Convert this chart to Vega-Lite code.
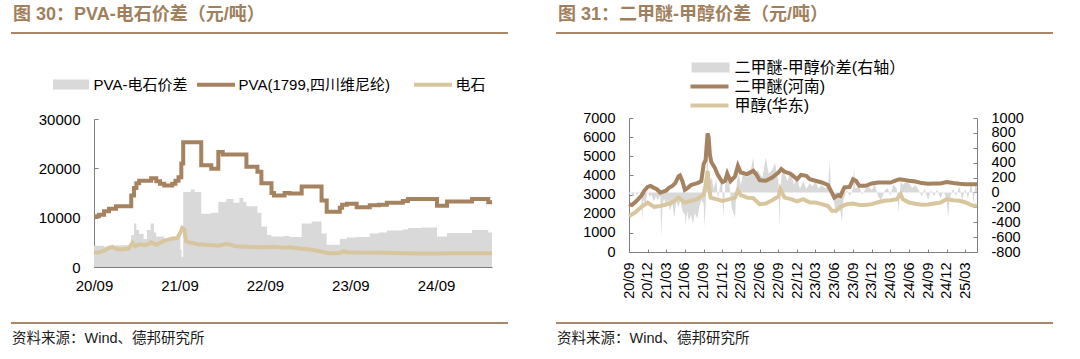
{
  "$schema": "https://vega.github.io/schema/vega-lite/v6.json",
  "background": "white",
  "padding": {"left": 11, "top": 6, "right": 5, "bottom": 5},
  "config": {
    "font": "Liberation Sans, Noto Sans CJK SC",
    "view": {"stroke": null},
    "axis": {"domainColor": "#7f7f7f", "tickColor": "#7f7f7f", "labelColor": "#000000", "labelFont": "Liberation Sans, Noto Sans CJK SC", "labelFontSize": 15, "grid": false, "labelOverlap": false},
    "legend": {"labelFont": "Liberation Sans, Noto Sans CJK SC", "labelFontSize": 15, "labelColor": "#000000", "labelLimit": 400}
  },
  "datasets": {
    "spreadL": [
      {"d":"2020-09-01","v":4300},{"d":"2020-10-14","v":4100},{"d":"2020-11-04","v":4300},{"d":"2020-12-04","v":4400},
      {"d":"2021-01-29","v":4500},{"d":"2021-02-07","v":6500},{"d":"2021-02-19","v":8800},{"d":"2021-03-01","v":7500},
      {"d":"2021-03-13","v":6700},{"d":"2021-04-01","v":5700},{"d":"2021-04-15","v":7500},{"d":"2021-05-01","v":8800},
      {"d":"2021-05-15","v":7000},{"d":"2021-05-25","v":6200},{"d":"2021-06-28","v":5800},{"d":"2021-08-01","v":5900},
      {"d":"2021-08-23","v":6200},{"d":"2021-09-05","v":3500},{"d":"2021-09-10","v":2000},{"d":"2021-09-17","v":15200},
      {"d":"2021-10-20","v":15700},{"d":"2021-11-05","v":15200},{"d":"2021-12-03","v":10800},{"d":"2022-01-15","v":11000},
      {"d":"2022-02-14","v":13200},{"d":"2022-03-20","v":13800},{"d":"2022-04-20","v":13000},{"d":"2022-05-15","v":14000},
      {"d":"2022-06-01","v":13200},{"d":"2022-06-14","v":12300},{"d":"2022-07-31","v":11000},{"d":"2022-08-17","v":8200},
      {"d":"2022-09-10","v":6500},{"d":"2022-09-29","v":6200},{"d":"2022-11-24","v":6300},{"d":"2022-12-15","v":6100},
      {"d":"2023-02-05","v":8800},{"d":"2023-03-20","v":9200},{"d":"2023-05-01","v":6800},{"d":"2023-05-23","v":4500},
      {"d":"2023-07-18","v":5700},{"d":"2023-08-17","v":6000},{"d":"2023-09-28","v":6100},{"d":"2023-11-23","v":6800},
      {"d":"2024-01-01","v":7000},{"d":"2024-02-04","v":7400},{"d":"2024-04-12","v":7600},{"d":"2024-05-04","v":7900},
      {"d":"2024-07-01","v":8000},{"d":"2024-09-05","v":6200},{"d":"2024-10-18","v":6900},{"d":"2025-02-02","v":7500},
      {"d":"2025-04-12","v":7000},{"d":"2025-04-28","v":7000}
    ],
    "pva": [
      {"d":"2020-09-01","v":10300},{"d":"2020-09-22","v":10600},{"d":"2020-10-14","v":11300},{"d":"2020-11-04","v":11800},
      {"d":"2020-12-04","v":12300},{"d":"2021-01-29","v":12300},{"d":"2021-02-07","v":14500},{"d":"2021-02-19","v":16000},
      {"d":"2021-03-01","v":17000},{"d":"2021-03-13","v":17500},{"d":"2021-05-03","v":18000},{"d":"2021-05-25","v":17400},
      {"d":"2021-06-10","v":16900},{"d":"2021-06-28","v":16500},{"d":"2021-08-01","v":16900},{"d":"2021-08-15","v":17500},
      {"d":"2021-08-28","v":18200},{"d":"2021-09-09","v":21000},{"d":"2021-09-17","v":25300},{"d":"2021-12-03","v":20600},
      {"d":"2022-01-15","v":19900},{"d":"2022-02-14","v":23300},{"d":"2022-03-05","v":22800},{"d":"2022-06-14","v":20300},
      {"d":"2022-07-31","v":19300},{"d":"2022-08-17","v":17000},{"d":"2022-09-29","v":15000},{"d":"2022-10-10","v":14500},
      {"d":"2022-11-24","v":15000},{"d":"2022-12-15","v":14900},{"d":"2023-02-05","v":16300},{"d":"2023-05-01","v":13500},
      {"d":"2023-05-23","v":11200},{"d":"2023-07-18","v":12000},{"d":"2023-07-28","v":12600},{"d":"2023-08-17","v":12800},
      {"d":"2023-09-28","v":12100},{"d":"2023-11-23","v":12500},{"d":"2024-01-01","v":12600},{"d":"2024-02-04","v":13000},
      {"d":"2024-04-12","v":13400},{"d":"2024-05-04","v":13800},{"d":"2024-09-05","v":12400},{"d":"2024-10-18","v":13300},
      {"d":"2025-02-02","v":13800},{"d":"2025-04-12","v":13100},{"d":"2025-04-28","v":13100}
    ],
    "cs": [
      {"d":"2020-09-01","v":3000},{"d":"2020-09-22","v":2950},{"d":"2020-10-14","v":3300},{"d":"2020-11-04","v":3900},
      {"d":"2020-11-20","v":4100},{"d":"2020-12-09","v":3600},{"d":"2021-01-10","v":3600},{"d":"2021-01-29","v":3800},
      {"d":"2021-02-12","v":4900},{"d":"2021-02-25","v":4200},{"d":"2021-03-13","v":4600},{"d":"2021-04-10","v":4400},
      {"d":"2021-05-03","v":5000},{"d":"2021-05-25","v":4500},{"d":"2021-06-28","v":5300},{"d":"2021-08-01","v":5800},
      {"d":"2021-08-23","v":5900},{"d":"2021-09-05","v":7000},{"d":"2021-09-13","v":7900},{"d":"2021-09-22","v":7600},
      {"d":"2021-09-30","v":5200},{"d":"2021-10-13","v":5000},{"d":"2021-11-20","v":4600},{"d":"2021-12-20","v":4500},
      {"d":"2022-02-14","v":4300},{"d":"2022-03-20","v":4700},{"d":"2022-05-01","v":4200},{"d":"2022-06-14","v":4100},
      {"d":"2022-07-31","v":4000},{"d":"2022-09-01","v":4000},{"d":"2022-10-10","v":4100},{"d":"2022-11-24","v":3900},
      {"d":"2022-12-15","v":4000},{"d":"2023-02-05","v":3700},{"d":"2023-03-20","v":3500},{"d":"2023-05-01","v":3100},
      {"d":"2023-06-01","v":2800},{"d":"2023-07-18","v":2850},{"d":"2023-08-01","v":3200},{"d":"2023-08-20","v":3000},
      {"d":"2023-10-01","v":2950},{"d":"2023-12-01","v":2950},{"d":"2024-02-01","v":2900},{"d":"2024-04-12","v":2800},
      {"d":"2024-07-01","v":2750},{"d":"2024-09-05","v":2750},{"d":"2024-11-01","v":2800},{"d":"2025-01-01","v":2800},
      {"d":"2025-04-28","v":2800}
    ],
    "spreadR": [
      {"d":"2020-09-01","v":-30},{"d":"2020-09-10","v":20},{"d":"2020-09-20","v":-60},{"d":"2020-10-01","v":10},
      {"d":"2020-10-10","v":-40},{"d":"2020-10-20","v":20},{"d":"2020-11-01","v":-80},{"d":"2020-11-05","v":-380},
      {"d":"2020-11-10","v":-100},{"d":"2020-11-20","v":-150},{"d":"2020-12-01","v":20},{"d":"2020-12-10","v":-60},
      {"d":"2020-12-20","v":-30},{"d":"2021-01-01","v":-120},{"d":"2021-01-10","v":-50},{"d":"2021-01-20","v":-100},
      {"d":"2021-02-01","v":-40},{"d":"2021-02-06","v":-600},{"d":"2021-02-12","v":-150},{"d":"2021-02-20","v":-80},
      {"d":"2021-03-01","v":-200},{"d":"2021-03-10","v":-100},{"d":"2021-03-20","v":-250},{"d":"2021-04-01","v":-150},
      {"d":"2021-04-10","v":-340},{"d":"2021-04-20","v":-120},{"d":"2021-05-01","v":-200},{"d":"2021-05-10","v":-100},
      {"d":"2021-05-20","v":-250},{"d":"2021-06-01","v":-300},{"d":"2021-06-05","v":-450},{"d":"2021-06-12","v":-250},
      {"d":"2021-06-20","v":-380},{"d":"2021-07-01","v":-300},{"d":"2021-07-10","v":-420},{"d":"2021-07-20","v":-280},
      {"d":"2021-08-01","v":-350},{"d":"2021-08-10","v":-200},{"d":"2021-08-20","v":-100},{"d":"2021-09-01","v":-150},
      {"d":"2021-09-05","v":-470},{"d":"2021-09-12","v":-50},{"d":"2021-09-20","v":900},{"d":"2021-09-24","v":-100},
      {"d":"2021-10-01","v":150},{"d":"2021-10-10","v":200},{"d":"2021-10-20","v":50},{"d":"2021-11-01","v":180},
      {"d":"2021-11-10","v":-100},{"d":"2021-11-20","v":100},{"d":"2021-12-01","v":150},{"d":"2021-12-05","v":-340},
      {"d":"2021-12-15","v":100},{"d":"2022-01-01","v":200},{"d":"2022-01-15","v":-200},{"d":"2022-02-01","v":-340},
      {"d":"2022-02-10","v":150},{"d":"2022-02-20","v":250},{"d":"2022-03-01","v":100},{"d":"2022-03-15","v":300},
      {"d":"2022-04-01","v":200},{"d":"2022-04-15","v":250},{"d":"2022-05-01","v":470},{"d":"2022-05-10","v":200},
      {"d":"2022-05-20","v":300},{"d":"2022-06-01","v":250},{"d":"2022-06-15","v":200},{"d":"2022-07-01","v":470},
      {"d":"2022-07-15","v":250},{"d":"2022-08-01","v":300},{"d":"2022-08-15","v":400},{"d":"2022-09-01","v":150},
      {"d":"2022-09-05","v":-470},{"d":"2022-09-12","v":100},{"d":"2022-09-20","v":300},{"d":"2022-10-01","v":250},
      {"d":"2022-10-15","v":150},{"d":"2022-11-01","v":300},{"d":"2022-11-15","v":100},{"d":"2022-12-01","v":200},
      {"d":"2022-12-15","v":50},{"d":"2023-01-01","v":150},{"d":"2023-01-15","v":50},{"d":"2023-02-01","v":120},
      {"d":"2023-02-15","v":80},{"d":"2023-03-01","v":150},{"d":"2023-03-15","v":50},{"d":"2023-04-01","v":100},
      {"d":"2023-04-15","v":60},{"d":"2023-05-01","v":80},{"d":"2023-05-10","v":430},{"d":"2023-05-15","v":50},
      {"d":"2023-06-01","v":-150},{"d":"2023-06-10","v":-300},{"d":"2023-06-20","v":-200},{"d":"2023-07-01","v":-250},
      {"d":"2023-07-08","v":-400},{"d":"2023-07-15","v":-100},{"d":"2023-08-01","v":30},{"d":"2023-08-15","v":-50},
      {"d":"2023-09-01","v":50},{"d":"2023-09-05","v":340},{"d":"2023-09-12","v":50},{"d":"2023-10-01","v":80},
      {"d":"2023-10-15","v":-30},{"d":"2023-11-01","v":50},{"d":"2023-11-15","v":80},{"d":"2023-12-01","v":30},
      {"d":"2023-12-15","v":110},{"d":"2024-01-01","v":-50},{"d":"2024-01-15","v":-110},{"d":"2024-02-01","v":20},
      {"d":"2024-02-15","v":60},{"d":"2024-03-01","v":-40},{"d":"2024-03-15","v":110},{"d":"2024-04-01","v":50},
      {"d":"2024-04-10","v":-270},{"d":"2024-04-20","v":150},{"d":"2024-05-01","v":100},{"d":"2024-05-15","v":150},
      {"d":"2024-06-01","v":120},{"d":"2024-06-15","v":60},{"d":"2024-07-01","v":100},{"d":"2024-07-15","v":40},
      {"d":"2024-08-01","v":-50},{"d":"2024-08-15","v":50},{"d":"2024-09-01","v":-100},{"d":"2024-09-15","v":30},
      {"d":"2024-10-01","v":-50},{"d":"2024-10-15","v":40},{"d":"2024-11-01","v":-80},{"d":"2024-11-15","v":20},
      {"d":"2024-12-01","v":-100},{"d":"2024-12-08","v":-340},{"d":"2024-12-15","v":-80},{"d":"2025-01-01","v":50},
      {"d":"2025-01-15","v":-50},{"d":"2025-02-01","v":80},{"d":"2025-02-15","v":-100},{"d":"2025-03-01","v":50},
      {"d":"2025-03-15","v":-80},{"d":"2025-04-01","v":150},{"d":"2025-04-10","v":-150},{"d":"2025-04-20","v":100},
      {"d":"2025-04-28","v":60}
    ],
    "dme": [
      {"d":"2020-09-01","v":2500},{"d":"2020-09-15","v":2450},{"d":"2020-10-01","v":2600},{"d":"2020-10-15","v":2750},
      {"d":"2020-11-01","v":2950},{"d":"2020-11-15","v":3200},{"d":"2020-12-01","v":3400},{"d":"2020-12-15","v":3450},
      {"d":"2021-01-01","v":3350},{"d":"2021-01-15","v":3280},{"d":"2021-02-01","v":3100},{"d":"2021-02-15","v":3150},
      {"d":"2021-03-01","v":3200},{"d":"2021-03-15","v":3350},{"d":"2021-04-01","v":3450},{"d":"2021-04-15","v":3600},
      {"d":"2021-05-01","v":3950},{"d":"2021-05-08","v":4000},{"d":"2021-05-20","v":3700},{"d":"2021-06-01","v":3250},
      {"d":"2021-06-15","v":3350},{"d":"2021-07-01","v":3500},{"d":"2021-07-15","v":3550},{"d":"2021-08-01","v":3600},
      {"d":"2021-08-20","v":3700},{"d":"2021-09-01","v":4600},{"d":"2021-09-10","v":4800},{"d":"2021-09-20","v":6200},
      {"d":"2021-09-25","v":6000},{"d":"2021-10-01","v":5100},{"d":"2021-10-08","v":4700},{"d":"2021-10-25","v":4400},
      {"d":"2021-11-10","v":4000},{"d":"2021-12-01","v":3650},{"d":"2021-12-15","v":3720},{"d":"2021-12-25","v":4100},
      {"d":"2022-01-10","v":3700},{"d":"2022-02-01","v":3950},{"d":"2022-02-15","v":4500},{"d":"2022-03-01","v":4150},
      {"d":"2022-04-01","v":4070},{"d":"2022-05-01","v":4240},{"d":"2022-05-15","v":4070},{"d":"2022-06-01","v":3750},
      {"d":"2022-07-01","v":3720},{"d":"2022-08-01","v":3890},{"d":"2022-09-01","v":4150},{"d":"2022-09-15","v":4330},
      {"d":"2022-10-01","v":4200},{"d":"2022-11-01","v":4080},{"d":"2022-12-01","v":3800},{"d":"2022-12-20","v":4030},
      {"d":"2023-01-15","v":3980},{"d":"2023-02-01","v":3800},{"d":"2023-03-01","v":3720},{"d":"2023-04-01","v":3630},
      {"d":"2023-05-01","v":3500},{"d":"2023-05-20","v":3100},{"d":"2023-06-01","v":2840},{"d":"2023-06-20","v":2970},
      {"d":"2023-07-01","v":2930},{"d":"2023-07-20","v":3370},{"d":"2023-08-15","v":3400},{"d":"2023-09-01","v":3800},
      {"d":"2023-09-15","v":3720},{"d":"2023-10-01","v":3460},{"d":"2023-11-01","v":3460},{"d":"2023-12-01","v":3580},
      {"d":"2024-01-01","v":3630},{"d":"2024-02-01","v":3630},{"d":"2024-03-01","v":3630},{"d":"2024-04-01","v":3750},
      {"d":"2024-04-15","v":3800},{"d":"2024-05-01","v":3780},{"d":"2024-06-01","v":3720},{"d":"2024-07-01","v":3680},
      {"d":"2024-08-01","v":3600},{"d":"2024-09-01","v":3560},{"d":"2024-10-01","v":3580},{"d":"2024-11-01","v":3580},
      {"d":"2024-12-01","v":3650},{"d":"2025-01-01","v":3600},{"d":"2025-02-01","v":3560},{"d":"2025-03-01","v":3540},
      {"d":"2025-04-01","v":3540},{"d":"2025-04-28","v":3540}
    ],
    "meoh": [
      {"d":"2020-09-01","v":1880},{"d":"2020-10-01","v":2060},{"d":"2020-11-01","v":2360},{"d":"2020-12-01","v":2580},
      {"d":"2021-01-01","v":2360},{"d":"2021-02-01","v":2400},{"d":"2021-03-01","v":2480},{"d":"2021-04-01","v":2600},
      {"d":"2021-05-01","v":2840},{"d":"2021-06-01","v":2580},{"d":"2021-07-01","v":2670},{"d":"2021-08-01","v":2760},
      {"d":"2021-09-01","v":3000},{"d":"2021-09-10","v":3500},{"d":"2021-09-20","v":4240},{"d":"2021-09-28","v":3300},
      {"d":"2021-10-05","v":2840},{"d":"2021-11-01","v":2760},{"d":"2021-12-01","v":2670},{"d":"2022-01-01","v":2750},
      {"d":"2022-02-01","v":2840},{"d":"2022-02-15","v":3230},{"d":"2022-03-01","v":2970},{"d":"2022-04-01","v":2840},
      {"d":"2022-05-01","v":2810},{"d":"2022-06-01","v":2500},{"d":"2022-07-01","v":2530},{"d":"2022-08-01","v":2700},
      {"d":"2022-09-01","v":2900},{"d":"2022-09-10","v":3280},{"d":"2022-10-01","v":2840},{"d":"2022-11-01","v":2760},
      {"d":"2022-12-01","v":2640},{"d":"2023-01-01","v":2760},{"d":"2023-02-01","v":2580},{"d":"2023-03-01","v":2580},
      {"d":"2023-04-01","v":2500},{"d":"2023-05-01","v":2400},{"d":"2023-05-20","v":2150},{"d":"2023-06-10","v":2150},
      {"d":"2023-07-01","v":2360},{"d":"2023-08-01","v":2500},{"d":"2023-09-01","v":2530},{"d":"2023-10-01","v":2460},
      {"d":"2023-11-01","v":2460},{"d":"2023-12-01","v":2500},{"d":"2024-01-01","v":2600},{"d":"2024-02-01","v":2680},
      {"d":"2024-03-01","v":2700},{"d":"2024-04-01","v":2760},{"d":"2024-04-20","v":3020},{"d":"2024-05-01","v":2750},
      {"d":"2024-06-01","v":2580},{"d":"2024-07-01","v":2520},{"d":"2024-08-01","v":2470},{"d":"2024-09-01","v":2480},
      {"d":"2024-10-01","v":2530},{"d":"2024-11-01","v":2580},{"d":"2024-12-01","v":2760},{"d":"2025-01-01","v":2700},
      {"d":"2025-02-01","v":2680},{"d":"2025-03-01","v":2600},{"d":"2025-04-01","v":2450},{"d":"2025-04-28","v":2400}
    ]
  },
  "spacing": 48,
  "resolve": {"scale": {"x": "independent", "y": "independent", "color": "independent", "fill": "independent"}, "axis": {"x": "independent", "y": "independent"}, "legend": {"color": "independent", "fill": "independent"}},
  "hconcat": [
    {
      "spacing": 43,
      "resolve": {"scale": {"x": "independent", "y": "independent", "color": "independent", "fill": "independent"}, "axis": {"x": "independent", "y": "independent"}, "legend": {"color": "independent", "fill": "independent"}},
      "vconcat": [
        {
          "width": 497, "height": 2,
          "view": {"fill": "#a8876a", "stroke": null},
          "data": {"values": []},
          "mark": "point",
          "title": {"text": "图 30：PVA-电石价差（元/吨）", "anchor": "start", "offset": 8, "dx": 2, "fontSize": 18, "fontWeight": "bold", "color": "#a0805c", "font": "Liberation Sans, Noto Sans CJK SC"}
        },
        {
          "spacing": 29,
          "resolve": {"scale": {"x": "independent", "y": "independent", "color": "independent", "fill": "independent"}, "axis": {"x": "independent", "y": "independent"}, "legend": {"color": "independent", "fill": "independent"}},
          "vconcat": [
            {
              "spacing": 26,
              "resolve": {"scale": {"x": "independent", "y": "independent", "color": "independent", "fill": "independent"}, "axis": {"x": "independent", "y": "independent"}, "legend": {"color": "independent", "fill": "independent"}},
              "hconcat": [
                {"width": 1, "height": 1, "data": {"values": []}, "mark": "point"},
                {
                  "width": 398, "height": 148,
                  "encoding": {
                    "x": {"field": "d", "type": "temporal",
                      "scale": {"type": "utc", "domain": [{"year": 2020, "month": 9, "date": 1, "utc": true}, {"year": 2025, "month": 4, "date": 28, "utc": true}]},
                      "axis": {"title": null, "format": "%y/%m", "values": [{"year": 2020, "month": 9, "date": 1, "utc": true}, {"year": 2021, "month": 9, "date": 1, "utc": true}, {"year": 2022, "month": 9, "date": 1, "utc": true}, {"year": 2023, "month": 9, "date": 1, "utc": true}, {"year": 2024, "month": 9, "date": 1, "utc": true}], "tickSize": -4, "labelPadding": 15, "labelFlush": false, "labelOverlap": false}},
                    "y": {"field": "v", "type": "quantitative", "scale": {"domain": [0, 30000]},
                      "axis": {"title": null, "values": [0, 10000, 20000, 30000], "format": "d", "tickSize": -4, "labelPadding": 18, "labelOverlap": false}}
                  },
                  "layer": [
                    {
                      "data": {"name": "spreadL"},
                      "mark": {"type": "area", "interpolate": "step-after"},
                      "encoding": {
                        "fill": {"datum": "PVA-电石价差", "scale": {"domain": ["PVA-电石价差"], "range": ["#d9d9d9"]},
                          "legend": {"title": null, "orient": "none", "legendX": -30.5, "legendY": -42, "symbolType": "M-3.6,-1H3.6V1H-3.6Z", "symbolSize": 100, "symbolStrokeWidth": 0, "symbolOpacity": 1, "labelOffset": 15}}
                      }
                    },
                    {
                      "data": {"name": "pva"},
                      "mark": {"type": "line", "interpolate": "step-after", "strokeWidth": 4},
                      "encoding": {
                        "color": {"datum": "PVA(1799,四川维尼纶)", "scale": {"domain": ["PVA(1799,四川维尼纶)", "电石"], "range": ["#a68360", "#d8c69f"]},
                          "legend": {"title": null, "orient": "none", "direction": "horizontal", "legendX": 114.5, "legendY": -42, "symbolType": "M-3.8,0H3.8", "symbolSize": 100, "symbolStrokeWidth": 4, "columnPadding": 15, "labelOffset": 15}}
                      }
                    },
                    {
                      "data": {"name": "cs"},
                      "mark": {"type": "line", "strokeWidth": 4},
                      "encoding": {
                        "color": {"datum": "电石"}
                      }
                    }
                  ]
                }
              ]
            },
            {
              "width": 497, "height": 2,
              "view": {"fill": "#a8876a", "stroke": null},
              "data": {"values": []},
              "mark": "point",
              "title": {"text": "资料来源：Wind、德邦研究所", "orient": "bottom", "anchor": "start", "offset": 8, "dx": 1, "fontSize": 14.5, "fontWeight": "normal", "color": "#1a1a1a", "font": "Liberation Sans, Noto Sans CJK SC"}
            }
          ]
        }
      ]
    },
    {
      "spacing": 25,
      "resolve": {"scale": {"x": "independent", "y": "independent", "color": "independent", "fill": "independent"}, "axis": {"x": "independent", "y": "independent"}, "legend": {"color": "independent", "fill": "independent"}},
      "vconcat": [
        {
          "width": 497, "height": 2,
          "view": {"fill": "#a8876a", "stroke": null},
          "data": {"values": []},
          "mark": "point",
          "title": {"text": "图 31：二甲醚-甲醇价差（元/吨）", "anchor": "start", "offset": 8, "dx": 2, "fontSize": 18, "fontWeight": "bold", "color": "#a0805c", "font": "Liberation Sans, Noto Sans CJK SC"}
        },
        {
          "spacing": 23,
          "resolve": {"scale": {"x": "independent", "y": "independent", "color": "independent", "fill": "independent"}, "axis": {"x": "independent", "y": "independent"}, "legend": {"color": "independent", "fill": "independent"}},
          "vconcat": [
            {
              "spacing": 25,
              "resolve": {"scale": {"x": "independent", "y": "independent", "color": "independent", "fill": "independent"}, "axis": {"x": "independent", "y": "independent"}, "legend": {"color": "independent", "fill": "independent"}},
              "hconcat": [
                {"width": 1, "height": 1, "data": {"values": []}, "mark": "point"},
                {
                  "width": 348, "height": 134,
                  "resolve": {"scale": {"y": "independent"}},
                  "encoding": {
                    "x": {"field": "d", "type": "temporal",
                      "scale": {"type": "utc", "domain": [{"year": 2020, "month": 9, "date": 1, "utc": true}, {"year": 2025, "month": 4, "date": 28, "utc": true}]},
                      "axis": {"title": null, "format": "%y/%m", "labelAngle": -90, "tickSize": -3, "labelPadding": 13, "labelFlush": false, "labelOverlap": false, "labelFontSize": 14.5,
                        "values": [{"year": 2020, "month": 9, "date": 1, "utc": true}, {"year": 2020, "month": 12, "date": 1, "utc": true}, {"year": 2021, "month": 3, "date": 1, "utc": true}, {"year": 2021, "month": 6, "date": 1, "utc": true}, {"year": 2021, "month": 9, "date": 1, "utc": true}, {"year": 2021, "month": 12, "date": 1, "utc": true}, {"year": 2022, "month": 3, "date": 1, "utc": true}, {"year": 2022, "month": 6, "date": 1, "utc": true}, {"year": 2022, "month": 9, "date": 1, "utc": true}, {"year": 2022, "month": 12, "date": 1, "utc": true}, {"year": 2023, "month": 3, "date": 1, "utc": true}, {"year": 2023, "month": 6, "date": 1, "utc": true}, {"year": 2023, "month": 9, "date": 1, "utc": true}, {"year": 2023, "month": 12, "date": 1, "utc": true}, {"year": 2024, "month": 3, "date": 1, "utc": true}, {"year": 2024, "month": 6, "date": 1, "utc": true}, {"year": 2024, "month": 9, "date": 1, "utc": true}, {"year": 2024, "month": 12, "date": 1, "utc": true}, {"year": 2025, "month": 3, "date": 1, "utc": true}]}}
                  },
                  "layer": [
                    {
                      "data": {"name": "spreadR"},
                      "mark": {"type": "area"},
                      "encoding": {
                        "y": {"field": "v", "type": "quantitative", "scale": {"domain": [-800, 1000]},
                          "axis": {"title": null, "orient": "right", "values": [-800, -600, -400, -200, 0, 200, 400, 600, 800, 1000], "labelExpr": "'' + datum.value", "tickSize": -4, "labelPadding": 18, "labelOverlap": false, "labelFontSize": 14.5}},
                        "fill": {"datum": "二甲醚-甲醇价差(右轴）", "scale": {"domain": ["二甲醚-甲醇价差(右轴）"], "range": ["#d9d9d9"]},
                          "legend": {"title": null, "orient": "none", "legendX": 73.5, "legendY": -58.5, "symbolType": "M-3.8,-1H3.8V1H-3.8Z", "symbolSize": 100, "symbolStrokeWidth": 0, "symbolOpacity": 1, "labelOffset": 16, "labelFontSize": 16}}
                      }
                    },
                    {
                      "encoding": {
                        "y": {"field": "v", "type": "quantitative", "scale": {"domain": [0, 7000]},
                          "axis": {"title": null, "orient": "left", "values": [0, 1000, 2000, 3000, 4000, 5000, 6000, 7000], "format": "d", "tickSize": -4, "labelPadding": 18, "labelOverlap": false, "labelFontSize": 14.5}}
                      },
                      "layer": [
                        {
                          "data": {"name": "dme"},
                          "mark": {"type": "line", "strokeWidth": 4},
                          "encoding": {
                            "color": {"datum": "二甲醚(河南)", "scale": {"domain": ["二甲醚(河南)", "甲醇(华东)"], "range": ["#a68360", "#d8c69f"]},
                              "legend": {"title": null, "orient": "none", "direction": "vertical", "legendX": 72.5, "legendY": -39.5, "symbolType": "M-3.8,0H3.8", "symbolSize": 100, "symbolStrokeWidth": 4, "rowPadding": 3, "labelOffset": 17, "labelFontSize": 16}}
                          }
                        },
                        {
                          "data": {"name": "meoh"},
                          "mark": {"type": "line", "strokeWidth": 4},
                          "encoding": {
                            "color": {"datum": "甲醇(华东)"}
                          }
                        }
                      ]
                    }
                  ]
                }
              ]
            },
            {
              "width": 497, "height": 2,
              "view": {"fill": "#a8876a", "stroke": null},
              "data": {"values": []},
              "mark": "point",
              "title": {"text": "资料来源：Wind、德邦研究所", "orient": "bottom", "anchor": "start", "offset": 8, "dx": 1, "fontSize": 14.5, "fontWeight": "normal", "color": "#1a1a1a", "font": "Liberation Sans, Noto Sans CJK SC"}
            }
          ]
        }
      ]
    }
  ]
}
